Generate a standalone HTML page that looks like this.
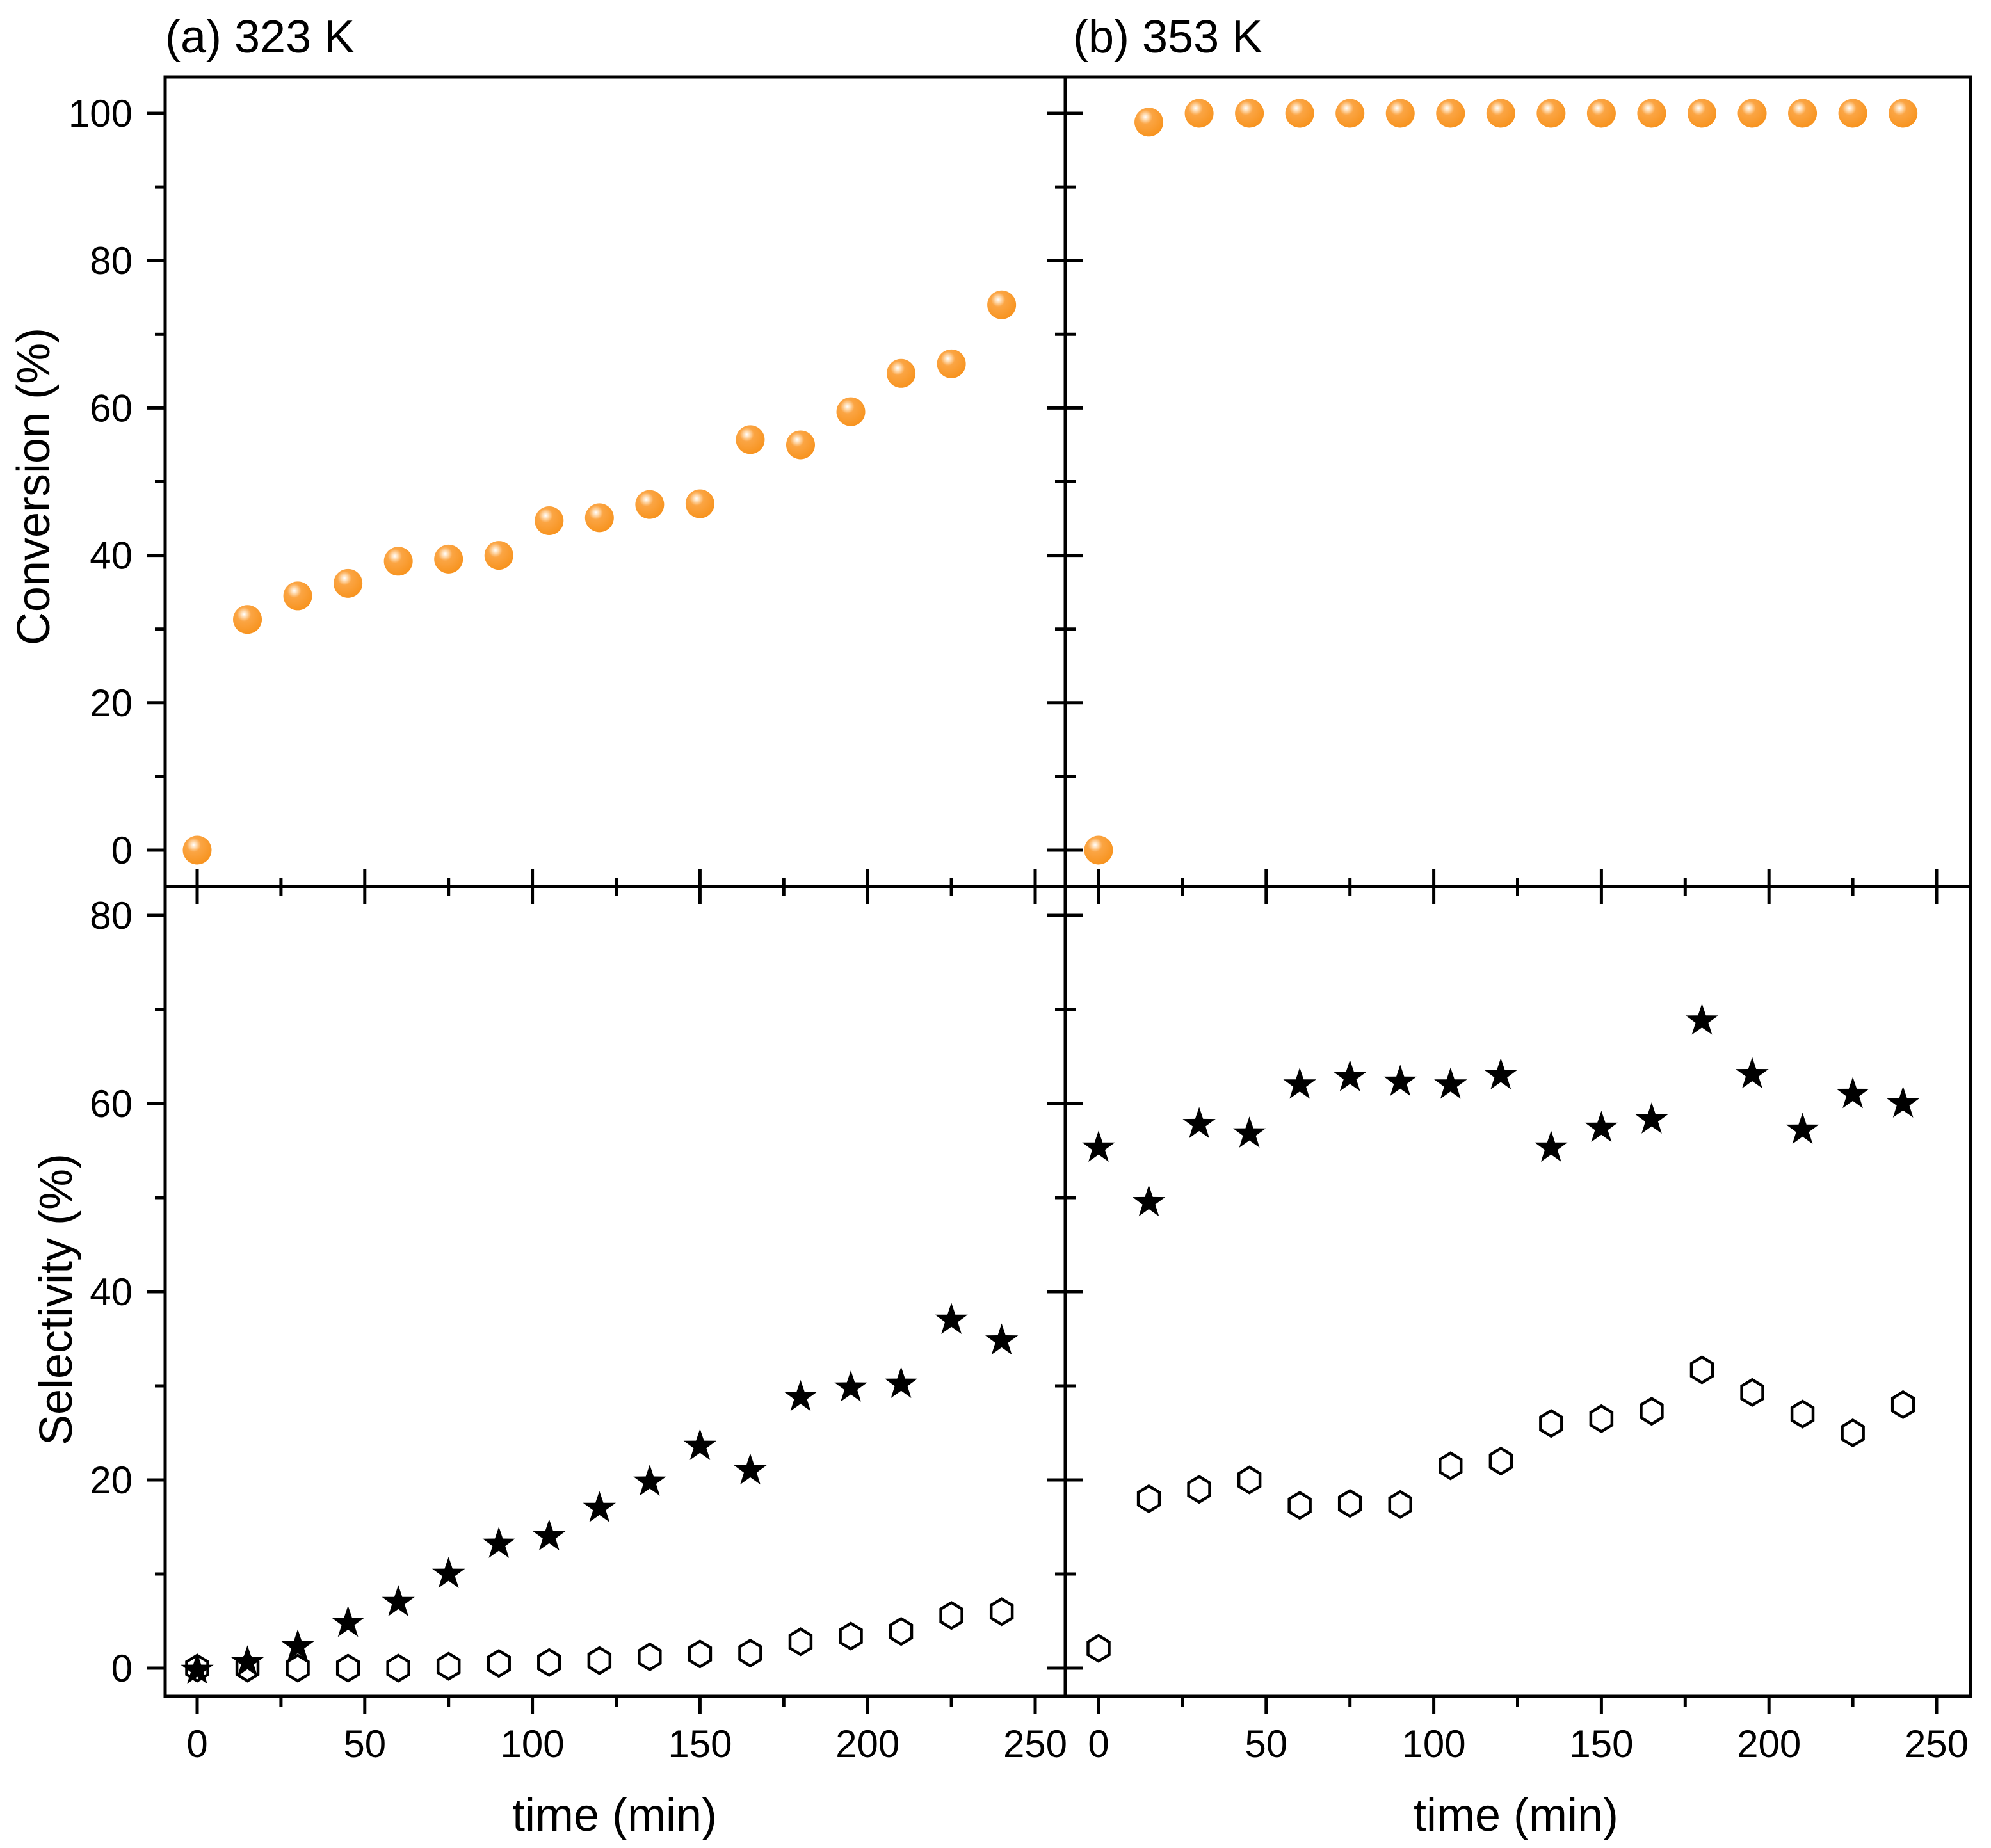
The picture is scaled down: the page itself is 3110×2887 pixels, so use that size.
<!DOCTYPE html>
<html><head><meta charset="utf-8">
<style>
html,body{margin:0;padding:0;background:#fff;}
svg{display:block;}
text{font-family:"Liberation Sans",Arial,sans-serif;fill:#000;}
</style></head>
<body>
<svg id="chart" width="3110" height="2887" viewBox="0 0 3110 2887" xmlns="http://www.w3.org/2000/svg">
<defs>
<radialGradient id="sphere" cx="0.38" cy="0.32" r="0.7">
<stop offset="0" stop-color="#ffffff"/>
<stop offset="0.12" stop-color="#ffe2bf"/>
<stop offset="0.35" stop-color="#fba544"/>
<stop offset="1" stop-color="#f7931e"/>
</radialGradient>
</defs>
<g id="axes"></g>
<g id="marks"></g>
</svg>
<script>
const times = [0,15,30,45,60,75,90,105,120,135,150,165,180,195,210,225,240];
const convA = [0,31.3,34.5,36.2,39.2,39.5,40,44.7,45.1,46.9,47,55.7,55,59.5,64.7,66,74];
const convB = [0,98.8,100,100,100,100,100,100,100,100,100,100,100,100,100,100,100];
const selStarA = [0,0.8,2.5,5,7.2,10.2,13.4,14.2,17.2,20,23.8,21.2,29,30,30.4,37.2,35];
const selHexA = [0,0,0,0,0,0.2,0.5,0.6,0.8,1.2,1.5,1.6,2.8,3.4,3.9,5.6,6];
const selStarB = [55.5,49.7,58,57,62.2,63,62.5,62.2,63.2,55.5,57.6,58.5,69,63.3,57.4,61.2,60.2];
const selHexB = [2.1,18,19,20,17.3,17.5,17.4,21.5,22,26,26.5,27.3,31.7,29.3,27,25,28];
const xTicks = [0,50,100,150,200,250];
const convTicks = [0,20,40,60,80,100];
const selTicks = [0,20,40,60,80];

const NS = "http://www.w3.org/2000/svg";
const axesG = document.getElementById('axes');
const marksG = document.getElementById('marks');
function mk(tag, attrs, parent){const e=document.createElementNS(NS,tag);for(const k in attrs)e.setAttribute(k,attrs[k]);parent.appendChild(e);return e;}

const L=258, MID=1664, R=3078, TOP=120, SEP=1385, BOT=2650;
const xPx=5.236;
function xA(t){return 308+t*xPx;}
function xB(t){return 1716+t*xPx;}
function yC(v){return 1328-v*11.51;}
function yS(v){return 2606-v*14.7;}

let f;
f=mk('rect',{x:L,y:TOP,width:R-L,height:BOT-TOP,fill:'none',stroke:'#000','stroke-width':5},axesG);


f=mk('line',{x1:L,y1:SEP,x2:R,y2:SEP,stroke:'#000','stroke-width':5},axesG);


f=mk('line',{x1:MID,y1:TOP,x2:MID,y2:BOT,stroke:'#000','stroke-width':5},axesG);



function tick(x1,y1,x2,y2,name){const t=mk('line',{x1:x1,y1:y1,x2:x2,y2:y2,stroke:'#000','stroke-width':5},axesG);

}
function label(x,y,s,anchor,size,name){const t=mk('text',{x:x,y:y,'text-anchor':anchor,'font-size':size},axesG);t.textContent=s;

return t;}

for(let v=0; v<=250; v+=25){
  const major = v%50===0;
  const len = major?28:14;
  [xA,xB].forEach((fx,i)=>{
    const x=fx(v);
    tick(x,SEP-len,x,SEP+len,'x-tick-separator');
    tick(x,BOT,x,BOT+(major?28:16),'x-tick-bottom');
  });
}
xTicks.forEach(v=>{
  label(xA(v),2745,String(v),'middle',60,'x-tick-label-a');
  label(xB(v),2745,String(v),'middle',60,'x-tick-label-b');
});
for(let v=0; v<=100; v+=10){
  const major=v%20===0, y=yC(v), len=major?28:16;
  tick(L-len,y,L,y,'y-tick-conversion');
  tick(MID-len,y,MID+len,y,'y-tick-conversion-mid');
}
convTicks.forEach(v=>label(207,yC(v)+21,String(v),'end',60,'y-tick-label-conversion'));
for(let v=0; v<=80; v+=10){
  const major=v%20===0, y=yS(v), len=major?28:16;
  tick(L-len,y,L,y,'y-tick-selectivity');
  tick(MID-len,y,MID+len,y,'y-tick-selectivity-mid');
}
selTicks.forEach(v=>label(207,yS(v)+21,String(v),'end',60,'y-tick-label-selectivity'));

label(258,82,'(a) 323 K','start',72,'panel-title-a');
label(1676,82,'(b) 353 K','start',72,'panel-title-b');
label(960,2860,'time (min)','middle',72,'x-axis-title-a');
label(2368,2860,'time (min)','middle',72,'x-axis-title-b');
let yt=label(0,0,'Conversion (%)','middle',72,'y-axis-title-conversion');
yt.setAttribute('transform','translate(77,760) rotate(-90)');
yt=label(0,0,'Selectivity (%)','middle',72,'y-axis-title-selectivity');
yt.setAttribute('transform','translate(112,2030) rotate(-90)');

function sphere(x,y,name){const c=mk('circle',{cx:x,cy:y,r:22.5,fill:'url(#sphere)'},marksG);

}
function star(x,y,name){let p=[];for(let i=0;i<10;i++){const r=i%2?10.5:27;const a=-Math.PI/2+i*Math.PI/5;p.push((x+r*Math.cos(a)).toFixed(1)+','+(y+3+r*Math.sin(a)).toFixed(1));}
const s=mk('polygon',{points:p.join(' '),fill:'#000'},marksG);

}
function hex(x,y,name){let p=[];for(let i=0;i<6;i++){const a=-Math.PI/2+i*Math.PI/3;p.push((x+19*Math.cos(a)).toFixed(1)+','+(y+20*Math.sin(a)).toFixed(1));}
const h=mk('polygon',{points:p.join(' '),fill:'#fff',stroke:'#000','stroke-width':4.5},marksG);

}

times.forEach((t,i)=>{
  sphere(xA(t),yC(convA[i]),'conversion-point-a');
  sphere(xB(t),yC(convB[i]),'conversion-point-b');
  hex(xA(t),yS(selHexA[i]),'selectivity-hexagon-a');
  hex(xB(t),yS(selHexB[i]),'selectivity-hexagon-b');
});
times.forEach((t,i)=>{
  star(xA(t),yS(selStarA[i]),'selectivity-star-a');
  star(xB(t),yS(selStarB[i]),'selectivity-star-b');
});
</script>
</body></html>
